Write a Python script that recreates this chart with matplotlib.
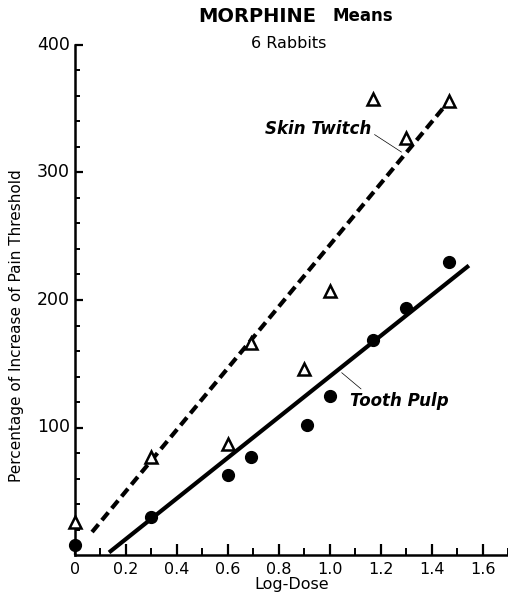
import numpy as np
import matplotlib
matplotlib.use('Agg')
import matplotlib.pyplot as plt
from matplotlib.ticker import MultipleLocator

plt.rcParams['font.family'] = ['DejaVu Sans']

# data
log_dose_skin = [0.0, 0.30, 0.60, 0.69, 0.90, 1.00, 1.17, 1.30, 1.47]
skin_twitch = [26, 77, 87, 166, 146, 207, 358, 327, 356]
log_dose_tooth = [0.0, 0.30, 0.60, 0.69, 0.91, 1.00, 1.17, 1.30, 1.47]
tooth_pulp = [8, 30, 63, 77, 102, 125, 169, 194, 230]

# fitted lines (end points)
skin_fit_x = [0.067, 1.46]
skin_fit_y = [18, 354]
tooth_fit_x = [0.14, 1.54]
tooth_fit_y = [3, 226]

x_ticks = [0, 0.2, 0.4, 0.6, 0.8, 1.0, 1.2, 1.4, 1.6]
x_labels = ['0', '0.2', '0.4', '0.6', '0.8', '1.0', '1.2', '1.4', '1.6']
y_ticks = [100, 200, 300, 400]

fig = plt.figure(figsize=(5.08, 5.95), dpi=100)
ax = fig.add_axes([75/508, 40/595, 433/508, 510/595])

ax.plot(skin_fit_x, skin_fit_y, color='black', lw=3.0, linestyle=(0, (2.4, 1.3)),
        solid_capstyle='butt', zorder=2)
ax.plot(tooth_fit_x, tooth_fit_y, color='black', lw=3.0, zorder=2)
ax.plot(log_dose_skin, skin_twitch, linestyle='none', marker='^', ms=8,
        mfc='white', mec='black', mew=1.8, zorder=3, clip_on=False)
ax.plot(log_dose_tooth, tooth_pulp, linestyle='none', marker='o', ms=8.5,
        color='black', zorder=3, clip_on=False)

ax.set_xlim(0, 1.70)
ax.set_ylim(0, 400)
for s in ['top', 'right']:
    ax.spines[s].set_visible(False)
for s in ['left', 'bottom']:
    ax.spines[s].set_linewidth(1.8)

ax.set_xticks(x_ticks)
ax.set_xticklabels(x_labels)
ax.set_yticks(y_ticks)
ax.xaxis.set_minor_locator(MultipleLocator(0.1))
ax.tick_params(which='major', direction='in', length=8, width=1.6, labelsize=11.5, pad=5)
ax.tick_params(which='minor', direction='in', length=5, width=1.4)
ax.tick_params(axis='y', which='both', left=False, right=False)

# y ticks of the original point to the right of the spine
for yv in np.arange(20, 401, 20):
    L = 8 if yv % 100 == 0 else 5
    ax.plot([0, L/255], [yv, yv], color='black', lw=1.6 if L == 8 else 1.4,
            clip_on=False, solid_capstyle='butt')
for yv in y_ticks:
    ax.text(-0.02, yv, str(yv), ha='right', va='center', fontsize=12.5)
ax.set_yticklabels([])

ax.set_xlabel('Log-Dose', fontsize=11.5, va='top')
ax.xaxis.set_label_coords(0.5, -0.043)
ax.set_ylabel('Percentage of Increase of Pain Threshold', fontsize=11)
ax.yaxis.set_label_coords(-0.118, 0.45)

ax.annotate('Skin Twitch', xy=(1.282, 316), xytext=(1.165, 334),
            ha='right', va='center', fontsize=12, fontweight='bold', style='italic',
            arrowprops=dict(arrowstyle='-', lw=0.5, color='black', shrinkA=0, shrinkB=0,
                            relpos=(1.0, 0.3)))
ax.annotate('Tooth Pulp', xy=(1.047, 143), xytext=(1.078, 121),
            ha='left', va='center', fontsize=12, fontweight='bold', style='italic',
            arrowprops=dict(arrowstyle='-', lw=0.5, color='black', shrinkA=0, shrinkB=0,
                            relpos=(0.15, 1.0)))

fig.text(316/508, 1 - 16/595, 'MORPHINE', ha='right', va='center',
         fontsize=14, fontweight='heavy')
fig.text(333/508, 1 - 16/595, 'Means', ha='left', va='center',
         fontsize=12, fontweight='bold')
fig.text(289/508, 1 - 43/595, '6 Rabbits', ha='center', va='center', fontsize=11.5)

fig.savefig('out.png', dpi=100)
